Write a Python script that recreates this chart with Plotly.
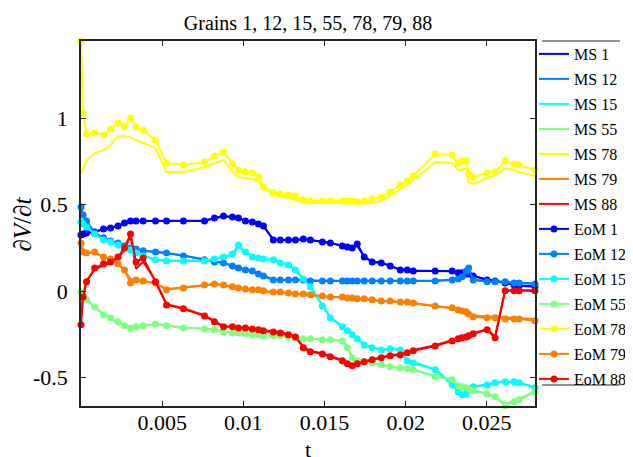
import plotly.graph_objects as go

# time steps
t = [0.0, 0.00013, 0.00034, 0.00084, 0.00139,
     0.00182, 0.00228, 0.00268, 0.00305, 0.00339,
     0.00383, 0.00459, 0.00527, 0.00631, 0.00761,
     0.00822, 0.00878, 0.00933, 0.00970, 0.01013,
     0.01056, 0.01093, 0.01124, 0.01185, 0.01228,
     0.01278, 0.01321, 0.01370, 0.01413, 0.01487,
     0.01536, 0.01610, 0.01641, 0.01671, 0.01702,
     0.01745, 0.01794, 0.01850, 0.01905, 0.01967,
     0.02010, 0.02047, 0.02182, 0.02287, 0.02324,
     0.02348, 0.02373, 0.02388, 0.02416, 0.02502,
     0.02551, 0.02613, 0.02668, 0.02699, 0.02797]

grains = ["1", "12", "15", "55", "78", "79", "88"]
colors = ["#0000FF", "#0080FF", "#00FFFF", "#80FF80", "#FFFF00", "#FF8000", "#FF0000"]

# EoM values
eom_1 = [0.325, 0.331, 0.336, 0.342, 0.359,
         0.365, 0.377, 0.394, 0.406, 0.406,
         0.406, 0.406, 0.406, 0.406, 0.406,
         0.423, 0.434, 0.429, 0.423, 0.406,
         0.400, 0.388, 0.377, 0.296, 0.296,
         0.296, 0.296, 0.302, 0.296, 0.284,
         0.279, 0.261, 0.256, 0.250, 0.273,
         0.198, 0.169, 0.163, 0.146, 0.123,
         0.123, 0.117, 0.117, 0.117, 0.106,
         0.106, 0.100, 0.100, 0.088, 0.065,
         0.059, 0.048, 0.036, 0.031, 0.025]
eom_12 = [0.486, 0.440, 0.406, 0.336, 0.308,
          0.290, 0.279, 0.261, 0.250, 0.244,
          0.233, 0.227, 0.221, 0.204, 0.181,
          0.169, 0.163, 0.146, 0.134, 0.123,
          0.117, 0.100, 0.088, 0.065, 0.065,
          0.065, 0.065, 0.065, 0.059, 0.059,
          0.059, 0.059, 0.059, 0.059, 0.059,
          0.059, 0.059, 0.059, 0.059, 0.059,
          0.059, 0.059, 0.059, 0.065, 0.071,
          0.083, 0.117, 0.134, 0.065, 0.054,
          0.054, 0.054, 0.048, 0.048, 0.042]
eom_15 = [0.400, 0.388, 0.371, 0.331, 0.296,
          0.284, 0.267, 0.250, 0.238, 0.221,
          0.204, 0.181, 0.175, 0.175, 0.175,
          0.186, 0.198, 0.215, 0.267, 0.227,
          0.198, 0.192, 0.186, 0.181, 0.163,
          0.152, 0.123, 0.071, 0.025, -0.085,
          -0.154, -0.206, -0.229, -0.252, -0.275,
          -0.310, -0.327, -0.339, -0.333, -0.339,
          -0.402, -0.414, -0.454, -0.541, -0.581,
          -0.598, -0.593, -0.569, -0.552, -0.541,
          -0.529, -0.523, -0.523, -0.529, -0.558]
eom_55 = [-0.004, -0.027, -0.050, -0.091, -0.137,
          -0.154, -0.177, -0.200, -0.212, -0.206,
          -0.200, -0.189, -0.200, -0.212, -0.218,
          -0.223, -0.235, -0.241, -0.241, -0.246,
          -0.252, -0.252, -0.258, -0.258, -0.258,
          -0.264, -0.269, -0.275, -0.275, -0.281,
          -0.281, -0.287, -0.327, -0.385, -0.402,
          -0.408, -0.414, -0.425, -0.437, -0.443,
          -0.448, -0.454, -0.494, -0.512, -0.546,
          -0.552, -0.558, -0.564, -0.575, -0.593,
          -0.610, -0.662, -0.639, -0.627, -0.581]
eom_78 = [1.444, 1.029, 0.908, 0.913, 0.902,
          0.936, 0.971, 0.954, 1.000, 0.948,
          0.931, 0.873, 0.740, 0.729, 0.746,
          0.781, 0.804, 0.735, 0.700, 0.688,
          0.683, 0.660, 0.602, 0.567, 0.561,
          0.556, 0.550, 0.527, 0.521, 0.521,
          0.521, 0.521, 0.521, 0.521, 0.515,
          0.521, 0.533, 0.544, 0.573, 0.613,
          0.636, 0.665, 0.792, 0.786, 0.740,
          0.752, 0.752, 0.677, 0.660, 0.683,
          0.688, 0.752, 0.735, 0.729, 0.700]
eom_79 = [0.279, 0.227, 0.221, 0.227, 0.198,
          0.186, 0.158, 0.123, 0.048, 0.065,
          0.059, 0.048, 0.008, 0.019, 0.036,
          0.042, 0.036, 0.025, 0.019, 0.013,
          0.008, 0.008, 0.002, -0.004, -0.004,
          -0.010, -0.016, -0.016, -0.021, -0.027,
          -0.033, -0.033, -0.039, -0.039, -0.044,
          -0.044, -0.050, -0.056, -0.056, -0.062,
          -0.062, -0.068, -0.085, -0.096, -0.108,
          -0.114, -0.119, -0.131, -0.148, -0.154,
          -0.154, -0.160, -0.160, -0.160, -0.171]
eom_88 = [-0.194, -0.033, 0.054, 0.134, 0.158,
          0.169, 0.198, 0.250, 0.331, 0.169,
          0.192, 0.054, -0.079, -0.102, -0.143,
          -0.177, -0.206, -0.206, -0.212, -0.212,
          -0.218, -0.223, -0.229, -0.235, -0.241,
          -0.252, -0.264, -0.327, -0.350, -0.362,
          -0.379, -0.402, -0.419, -0.431, -0.419,
          -0.408, -0.396, -0.385, -0.373, -0.368,
          -0.356, -0.344, -0.316, -0.287, -0.275,
          -0.269, -0.264, -0.258, -0.246, -0.223,
          -0.269, 0.002, 0.002, 0.002, 0.002]

# MS values
ms_1 = [0.330, 0.333, 0.338, 0.344, 0.357,
        0.365, 0.378, 0.392, 0.404, 0.406,
        0.406, 0.406, 0.404, 0.406, 0.408,
        0.421, 0.431, 0.429, 0.421, 0.408,
        0.400, 0.390, 0.375, 0.298, 0.296,
        0.294, 0.296, 0.300, 0.296, 0.286,
        0.279, 0.263, 0.256, 0.250, 0.262,
        0.200, 0.171, 0.165, 0.148, 0.125,
        0.123, 0.119, 0.117, 0.115, 0.108,
        0.106, 0.102, 0.100, 0.090, 0.067,
        0.061, 0.050, 0.038, 0.033, 0.029]
ms_12 = [0.480, 0.436, 0.400, 0.338, 0.306,
         0.292, 0.279, 0.263, 0.250, 0.244,
         0.235, 0.227, 0.221, 0.206, 0.183,
         0.171, 0.163, 0.148, 0.136, 0.125,
         0.117, 0.102, 0.090, 0.067, 0.065,
         0.065, 0.067, 0.065, 0.063, 0.061,
         0.061, 0.061, 0.061, 0.061, 0.061,
         0.061, 0.061, 0.061, 0.061, 0.061,
         0.061, 0.061, 0.061, 0.067, 0.073,
         0.083, 0.105, 0.120, 0.067, 0.056,
         0.056, 0.054, 0.050, 0.048, 0.044]
ms_15 = [0.395, 0.385, 0.369, 0.333, 0.298,
         0.286, 0.269, 0.252, 0.240, 0.223,
         0.206, 0.183, 0.177, 0.177, 0.177,
         0.186, 0.196, 0.210, 0.255, 0.225,
         0.198, 0.192, 0.188, 0.183, 0.165,
         0.154, 0.125, 0.075, 0.029, -0.080,
         -0.150, -0.202, -0.225, -0.250, -0.273,
         -0.306, -0.325, -0.337, -0.333, -0.337,
         -0.398, -0.410, -0.450, -0.535, -0.575,
         -0.592, -0.589, -0.566, -0.550, -0.539,
         -0.527, -0.521, -0.521, -0.527, -0.555]
ms_55 = [0.000, -0.025, -0.048, -0.089, -0.133,
         -0.152, -0.175, -0.198, -0.210, -0.204,
         -0.198, -0.189, -0.198, -0.210, -0.216,
         -0.221, -0.233, -0.239, -0.241, -0.244,
         -0.250, -0.252, -0.256, -0.258, -0.258,
         -0.262, -0.267, -0.273, -0.275, -0.279,
         -0.281, -0.285, -0.322, -0.380, -0.400,
         -0.406, -0.412, -0.423, -0.435, -0.441,
         -0.446, -0.452, -0.490, -0.508, -0.541,
         -0.548, -0.554, -0.560, -0.571, -0.589,
         -0.606, -0.652, -0.633, -0.621, -0.578]
ms_78 = [0.677, 0.711, 0.758, 0.798, 0.815,
         0.844, 0.896, 0.896, 0.890, 0.873,
         0.856, 0.827, 0.688, 0.688, 0.717,
         0.740, 0.758, 0.688, 0.660, 0.654,
         0.648, 0.631, 0.596, 0.561, 0.550,
         0.538, 0.527, 0.515, 0.509, 0.509,
         0.509, 0.509, 0.509, 0.509, 0.509,
         0.509, 0.509, 0.521, 0.550, 0.590,
         0.613, 0.642, 0.746, 0.740, 0.700,
         0.706, 0.706, 0.631, 0.619, 0.654,
         0.671, 0.711, 0.700, 0.688, 0.665]
ms_79 = [0.270, 0.225, 0.219, 0.223, 0.196,
         0.184, 0.156, 0.120, 0.070, 0.062,
         0.057, 0.046, 0.012, 0.020, 0.034,
         0.040, 0.034, 0.023, 0.017, 0.011,
         0.006, 0.006, 0.000, -0.006, -0.006,
         -0.012, -0.018, -0.018, -0.023, -0.029,
         -0.035, -0.035, -0.041, -0.041, -0.046,
         -0.046, -0.052, -0.058, -0.058, -0.064,
         -0.064, -0.070, -0.087, -0.098, -0.110,
         -0.116, -0.121, -0.133, -0.140, -0.146,
         -0.148, -0.152, -0.154, -0.154, -0.160]
ms_88 = [-0.150, -0.020, 0.060, 0.125, 0.150,
         0.163, 0.190, 0.240, 0.320, 0.130,
         0.170, 0.060, -0.075, -0.098, -0.140,
         -0.172, -0.202, -0.204, -0.208, -0.210,
         -0.214, -0.220, -0.225, -0.231, -0.237,
         -0.248, -0.260, -0.320, -0.345, -0.358,
         -0.375, -0.396, -0.413, -0.425, -0.415,
         -0.404, -0.392, -0.381, -0.369, -0.364,
         -0.352, -0.340, -0.312, -0.283, -0.271,
         -0.265, -0.260, -0.254, -0.242, -0.219,
         -0.262, 0.006, 0.006, 0.006, 0.006]

ms = [ms_1, ms_12, ms_15, ms_55, ms_78, ms_79, ms_88]
eom = [eom_1, eom_12, eom_15, eom_55, eom_78, eom_79, eom_88]

x_ticks = [0.005, 0.01, 0.015, 0.02, 0.025]
x_tick_labels = ["0.005", "0.01", "0.015", "0.02", "0.025"]
y_ticks = [-0.5, 0, 0.5, 1]
y_tick_labels = ["-0.5", "0", "0.5", "1"]

FONT = "Liberation Serif, DejaVu Serif, serif"
AX = "#262626"

# figure geometry (the page body adds an 8 px offset)
W, H = 633, 457
L, R, T, B = 73, 106, 33, 59
PW, PH = W - L - R, H - T - B

fig = go.Figure()
k = 0
for g, c, y in zip(grains, colors, ms):
    fig.add_trace(go.Scatter(x=t, y=y, mode="lines", name="MS " + g,
                             line=dict(color=c, width=2), legendgroup="g%d" % k))
    k += 1
for g, c, y in zip(grains, colors, eom):
    fig.add_trace(go.Scatter(x=t, y=y, mode="lines+markers", name="EoM " + g,
                             line=dict(color=c, width=2),
                             marker=dict(color=c, size=7, line=dict(width=0)),
                             cliponaxis=False, legendgroup="g%d" % k))
    k += 1

axis_common = dict(showline=True, mirror="ticks", linecolor=AX, linewidth=1.5,
                   ticks="inside", ticklen=5, tickwidth=1.2, tickcolor=AX,
                   showgrid=False, zeroline=False,
                   tickfont=dict(family=FONT, size=22, color="#000"))

fig.update_layout(
    width=W, height=H,
    margin=dict(l=L, r=R, t=T, b=B, autoexpand=False),
    paper_bgcolor="white", plot_bgcolor="white",
    font=dict(family=FONT, color="#000"),
    title=dict(text="Grains 1, 12, 15, 55, 78, 79, 88", x=(L + PW / 2) / W,
               xanchor="center", y=1 - 15 / H, yanchor="middle", yref="container",
               font=dict(family=FONT, size=20, color="#000")),
    xaxis=dict(range=[0, 0.02797], tickvals=x_ticks, ticktext=x_tick_labels,
               ticklabelstandoff=-4,
               title=dict(text="t", font=dict(family=FONT, size=22), standoff=7),
               **axis_common),
    yaxis=dict(range=[-0.663, 1.445], tickvals=y_ticks, ticktext=y_tick_labels,
               ticklabelstandoff=7, **axis_common),
    annotations=[
        dict(text="<i>∂V</i>/<i>∂t</i>", xref="paper", yref="paper",
             x=(14 - L) / PW, y=0.5, xanchor="center", yanchor="middle",
             textangle=-90, showarrow=False,
             font=dict(family=FONT, size=25, color="#000")),
    ],
    legend=dict(x=(526 - L) / PW, xanchor="left", y=1.0 + 4 / PH, yanchor="top",
                font=dict(family=FONT, size=16, color="#000"),
                bgcolor="rgba(0,0,0,0)", borderwidth=0, maxheight=420,
                traceorder="grouped", tracegroupgap=1.2, itemwidth=30),
    shapes=[
        dict(type="line", xref="paper", yref="paper", x0=(534 - L) / PW, x1=(612 - L) / PW,
             y0=1.0, y1=1.0, line=dict(color=AX, width=1)),
        dict(type="line", xref="paper", yref="paper", x0=(534 - L) / PW, x1=(612 - L) / PW,
             y0=(PH + T - 377) / PH, y1=(PH + T - 377) / PH, line=dict(color=AX, width=1)),
    ],
)

fig.write_html("out.html")
